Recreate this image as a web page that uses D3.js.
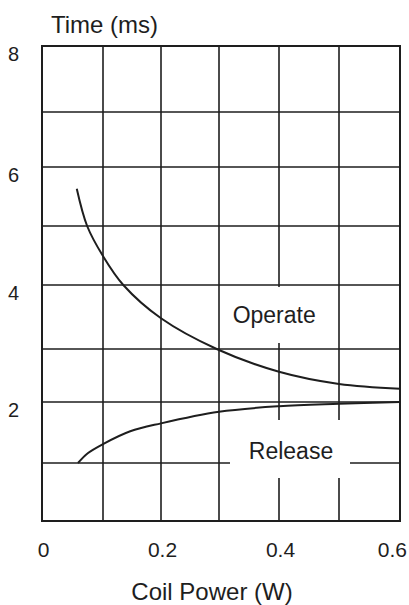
<!DOCTYPE html>
<html><head><meta charset="utf-8">
<script src="https://cdn.jsdelivr.net/npm/d3@7"></script>
<style>html,body{margin:0;padding:0;background:#fff;}svg{display:block;}</style>
</head><body>
<script>
// ---- data ----
const xTicks = [0, 0.2, 0.4, 0.6];
const xTickLabels = ["0", "0.2", "0.4", "0.6"];
const yTicks = [2, 4, 6, 8];
const yTickLabels = ["2", "4", "6", "8"];
const xGrid = [0, 0.1, 0.2, 0.3, 0.4, 0.5, 0.6];
const yGrid = [0, 1, 2, 3, 4, 5, 6, 7, 8];
const operateX = [0.057, 0.074, 0.1, 0.135, 0.2, 0.296, 0.4, 0.5, 0.6];
const operateY = [5.63, 5.0, 4.49, 4.0, 3.48, 3.0, 2.57, 2.34, 2.25];
const releaseX = [0.059, 0.075, 0.1, 0.147, 0.2, 0.3, 0.4, 0.5, 0.6];
const releaseY = [1.0, 1.16, 1.31, 1.52, 1.65, 1.84, 1.93, 1.97, 2.0];
const seriesNames = ["Operate", "Release"];
const xTitle = "Coil Power (W)";
const yTitle = "Time (ms)";

// ---- layout ----
const W = 409, H = 605;
const svg = d3.select("body").append("svg").attr("width", W).attr("height", H);
const x = d3.scaleLinear().domain(xGrid).range([42, 103, 161, 219, 279, 339, 400]);
const y = d3.scaleLinear().domain(yGrid).range([521, 463, 402, 349, 285, 226, 167, 112, 46]);
const font = "'Liberation Sans', Arial, sans-serif";
const ink = "#1e1e1e";

// grid
const g = svg.append("g");
g.selectAll(".vx").data(xGrid).join("line")
  .attr("x1", d => x(d)).attr("x2", d => x(d))
  .attr("y1", y(0)).attr("y2", y(8))
  .attr("stroke", ink).attr("stroke-width", (d, i) => (i === 0 || i === xGrid.length - 1) ? 2 : 1.6);
g.selectAll(".hy").data(yGrid).join("line")
  .attr("y1", d => y(d)).attr("y2", d => y(d))
  .attr("x1", x(0) - 1).attr("x2", x(0.6) + 1)
  .attr("stroke", ink).attr("stroke-width", (d, i) => (i === 0 || i === yGrid.length - 1) ? 2 : 1.6);

// label backgrounds (white boxes over grid)
svg.append("rect").attr("x", 226).attr("y", y(4) + 2).attr("width", 100).attr("height", 56).attr("fill", "#fff");
svg.append("rect").attr("x", 230).attr("y", y(2) + 18).attr("width", 120).attr("height", 58).attr("fill", "#fff");

// curves
const line = d3.line().x(d => x(d[0])).y(d => y(d[1])).curve(d3.curveCatmullRom.alpha(0.5));
svg.append("path").datum(operateX.map((v, i) => [v, operateY[i]]))
  .attr("d", line).attr("fill", "none").attr("stroke", ink).attr("stroke-width", 2);
svg.append("path").datum(releaseX.map((v, i) => [v, releaseY[i]]))
  .attr("d", line).attr("fill", "none").attr("stroke", ink).attr("stroke-width", 2);

// series labels
svg.append("text").attr("x", x(0.392)).attr("y", y(3.4)).attr("text-anchor", "middle")
  .attr("font-family", font).attr("font-size", 23).attr("fill", ink).text(seriesNames[0]);
svg.append("text").attr("x", x(0.42)).attr("y", y(1.06)).attr("text-anchor", "middle")
  .attr("font-family", font).attr("font-size", 23).attr("fill", ink).text(seriesNames[1]);

// x tick labels
svg.selectAll(".xt").data(xTicks).join("text")
  .attr("x", (d, i) => i === xTicks.length - 1 ? x(d) + 7 : x(d) + 1.5)
  .attr("y", 557)
  .attr("text-anchor", (d, i) => i === xTicks.length - 1 ? "end" : "middle")
  .attr("font-family", font).attr("font-size", 21).attr("fill", ink)
  .text((d, i) => xTickLabels[i]);

// y tick labels
svg.selectAll(".yt").data(yTicks).join("text")
  .attr("x", 19).attr("y", d => y(d) + 14.5)
  .attr("text-anchor", "end")
  .attr("font-family", font).attr("font-size", 20).attr("fill", ink)
  .text((d, i) => yTickLabels[i]);

// axis titles
svg.append("text").attr("x", 51).attr("y", 33)
  .attr("font-family", font).attr("font-size", 24).attr("fill", ink).text(yTitle);
svg.append("text").attr("x", 212).attr("y", 600).attr("text-anchor", "middle")
  .attr("font-family", font).attr("font-size", 24).attr("fill", ink).text(xTitle);
</script>
</body></html>
